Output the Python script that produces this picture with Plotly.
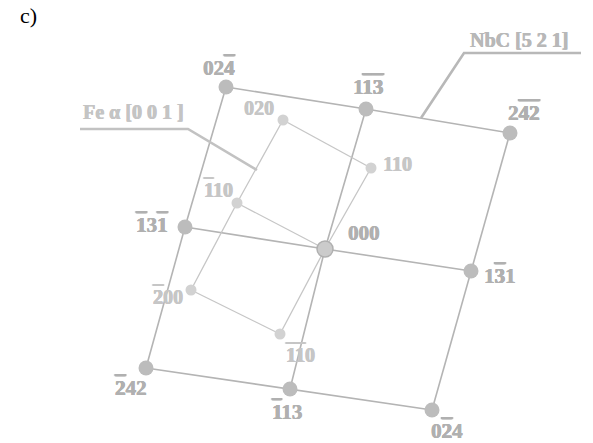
import plotly.graph_objects as go


def ol(ch):
    return '<span style="text-decoration:overline">' + ch + '</span>'


# NbC [5 2 1] reflections (3x3 grid), pixel coordinates
nbc_labels = ["02" + ol("4"), "1" + ol("1") + ol("3"), "2" + ol("4") + ol("2"),
              ol("1") + "3" + ol("1"), "000", "1" + ol("3") + "1",
              ol("2") + "42", ol("1") + "13", "0" + ol("2") + "4"]
nbc_x = [226, 366, 510, 185, 325, 471, 146, 290, 432]
nbc_y = [87, 109, 133, 227, 249, 271, 368, 389, 410]
nbc_label_x = [219, 368, 524, 152, 364, 500, 131, 287, 447]
nbc_label_y = [68, 87, 113, 225, 233, 276, 388, 412, 431]

# Fe alpha [0 0 1] reflections (3 rows x 2 cols)
fe_labels = ["020", "110", ol("1") + "10", "000", ol("2") + "00", ol("1") + ol("1") + "0"]
fe_x = [283, 371, 237, 325, 191, 280]
fe_y = [120, 168, 203, 249, 290, 334]
fe_label_x = [259, 397, 218, None, 168, 300]
fe_label_y = [108, 164, 190, None, 297, 355]

NB_LINE = "#b4b4b4"
FE_LINE = "#c6c6c6"
NB_DOT = "#bcbcbc"
FE_DOT = "#d2d2d2"
NB_TXT = "#b0b0b0"
FE_TXT = "#c6c6c6"
SERIF = "Liberation Serif"


def heavy(color):
    return "0.5px 0 0 %s, -0.3px 0 0 %s" % (color, color)


fig = go.Figure()

# NbC grid lines: rows and columns
for r in range(3):
    idx = [r * 3 + c for c in range(3)]
    fig.add_trace(go.Scatter(x=[nbc_x[i] for i in idx], y=[nbc_y[i] for i in idx],
                             mode="lines", line=dict(color=NB_LINE, width=1.6),
                             hoverinfo="skip", showlegend=False))
for c in range(3):
    idx = [r * 3 + c for r in range(3)]
    fig.add_trace(go.Scatter(x=[nbc_x[i] for i in idx], y=[nbc_y[i] for i in idx],
                             mode="lines", line=dict(color=NB_LINE, width=1.6),
                             hoverinfo="skip", showlegend=False))

# Fe grid lines
for r in range(3):
    idx = [r * 2, r * 2 + 1]
    fig.add_trace(go.Scatter(x=[fe_x[i] for i in idx], y=[fe_y[i] for i in idx],
                             mode="lines", line=dict(color=FE_LINE, width=1.3),
                             hoverinfo="skip", showlegend=False))
for c in range(2):
    idx = [r * 2 + c for r in range(3)]
    fig.add_trace(go.Scatter(x=[fe_x[i] for i in idx], y=[fe_y[i] for i in idx],
                             mode="lines", line=dict(color=FE_LINE, width=1.3),
                             hoverinfo="skip", showlegend=False))

# Leader lines
fe_leader_x = [80, 188, 257]
fe_leader_y = [129, 129, 170]
nbc_leader_x = [581, 464, 421]
nbc_leader_y = [53, 53, 118]
fig.add_trace(go.Scatter(x=fe_leader_x, y=fe_leader_y, mode="lines",
                         line=dict(color="#c2c2c2", width=2.6), hoverinfo="skip", showlegend=False))
fig.add_trace(go.Scatter(x=nbc_leader_x, y=nbc_leader_y, mode="lines",
                         line=dict(color="#b8b8b8", width=2.6), hoverinfo="skip", showlegend=False))

# Fe dots (excluding 000 shared origin)
fe_dot_idx = [i for i in range(6) if i != 3]
fig.add_trace(go.Scatter(x=[fe_x[i] for i in fe_dot_idx], y=[fe_y[i] for i in fe_dot_idx],
                         mode="markers", marker=dict(size=11, color=FE_DOT, line=dict(width=0)),
                         hoverinfo="skip", showlegend=False))
# NbC dots (excluding origin)
nb_dot_idx = [i for i in range(9) if i != 4]
fig.add_trace(go.Scatter(x=[nbc_x[i] for i in nb_dot_idx], y=[nbc_y[i] for i in nb_dot_idx],
                         mode="markers", marker=dict(size=15, color=NB_DOT, line=dict(width=0)),
                         hoverinfo="skip", showlegend=False))
# origin
fig.add_trace(go.Scatter(x=[nbc_x[4]], y=[nbc_y[4]], mode="markers",
                         marker=dict(size=16, color="#cbcbcb", line=dict(width=1.5, color="#b0b0b0")),
                         hoverinfo="skip", showlegend=False))

annotations = []
for i in range(9):
    annotations.append(dict(x=nbc_label_x[i], y=nbc_label_y[i], text="<b>" + nbc_labels[i] + "</b>",
                            showarrow=False, xanchor="center", yanchor="middle",
                            font=dict(family=SERIF, size=21, color=NB_TXT, weight="bold",
                                      shadow=heavy(NB_TXT))))
for i in range(6):
    if fe_label_x[i] is None:
        continue
    annotations.append(dict(x=fe_label_x[i], y=fe_label_y[i], text="<b>" + fe_labels[i] + "</b>",
                            showarrow=False, xanchor="center", yanchor="middle",
                            font=dict(family=SERIF, size=20, color=FE_TXT, weight="bold",
                                      shadow=heavy(FE_TXT))))
annotations.append(dict(x=133, y=112, text="<b>Fe \u03b1 [0 0 1 ]</b>", showarrow=False,
                        xanchor="center", yanchor="middle",
                        font=dict(family=SERIF, size=20, color="#c4c4c4", weight="bold",
                                  shadow=heavy("#c4c4c4"))))
annotations.append(dict(x=519, y=40, text="<b>NbC [5 2 1]</b>", showarrow=False,
                        xanchor="center", yanchor="middle",
                        font=dict(family=SERIF, size=20, color="#b8b8b8", weight="bold",
                                  shadow=heavy("#b8b8b8"))))
annotations.append(dict(x=28, y=15, text="c)", showarrow=False, xanchor="center", yanchor="middle",
                        font=dict(family=SERIF, size=22, color="#000000")))

fig.update_layout(
    width=593, height=443,
    margin=dict(l=0, r=0, t=0, b=0),
    paper_bgcolor="white", plot_bgcolor="white",
    xaxis=dict(range=[0, 593], visible=False, fixedrange=True),
    yaxis=dict(range=[443, 0], visible=False, fixedrange=True),
    annotations=annotations,
)

fig.write_html("out.html", config={"displayModeBar": False},
               post_script="document.body.style.margin='0';document.body.style.overflow='hidden';")
